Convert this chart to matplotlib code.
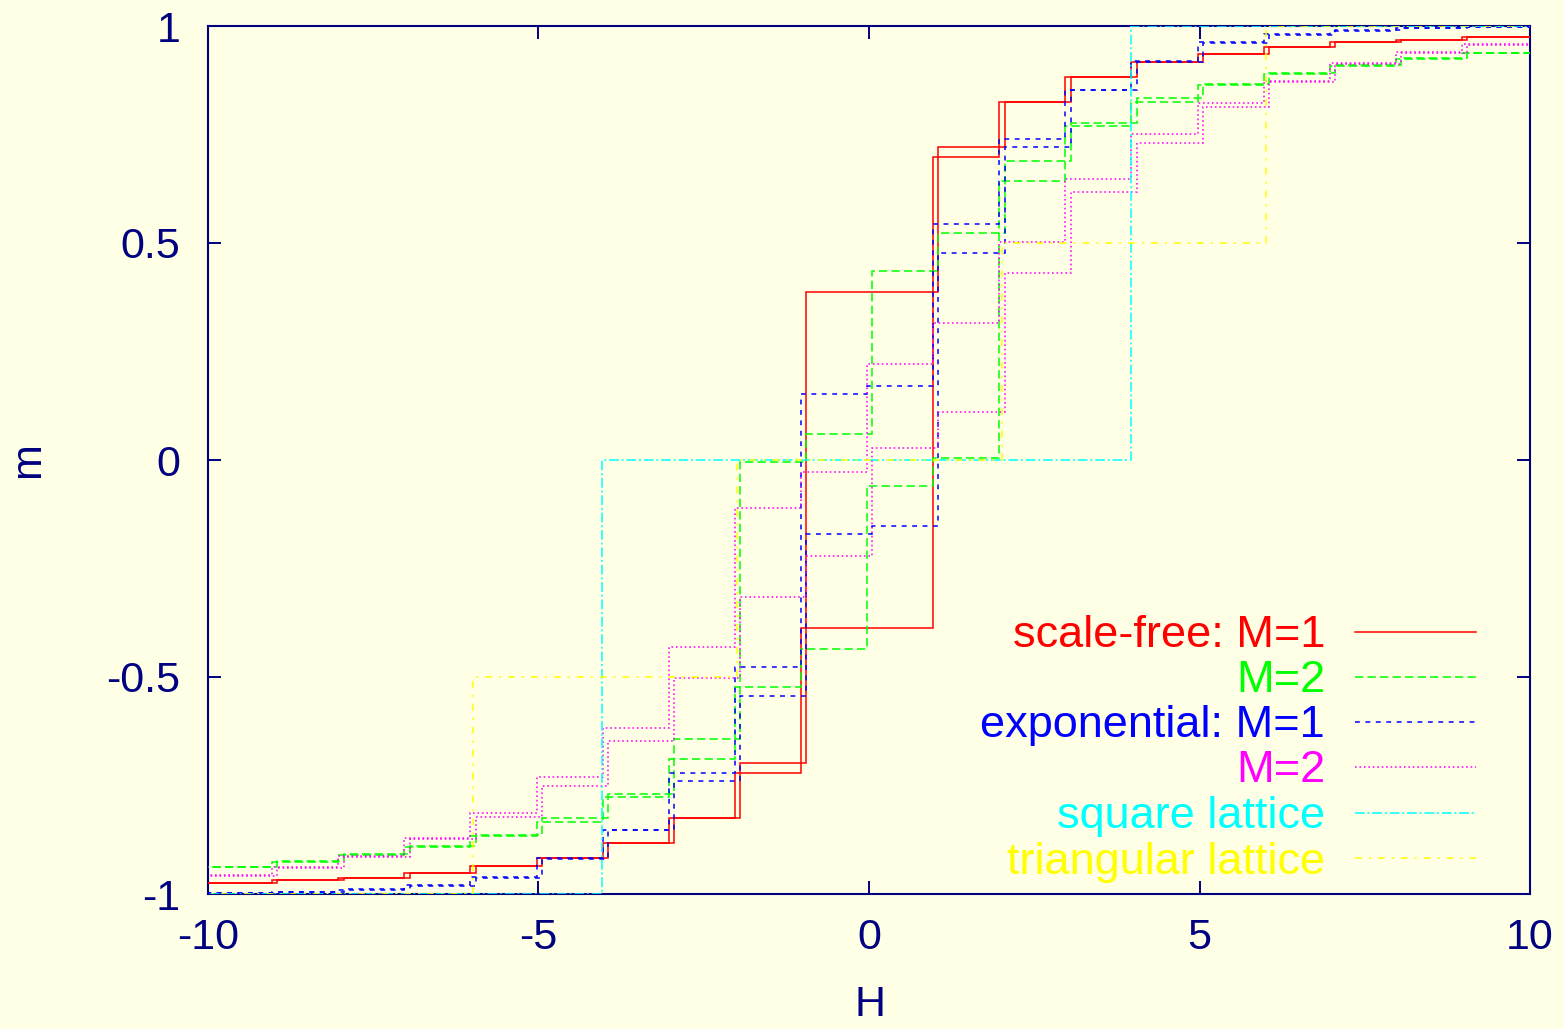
import numpy as np
import matplotlib
matplotlib.use("Agg")
import matplotlib.pyplot as plt

plt.rcParams['font.family'] = ['Liberation Sans', 'DejaVu Sans']
plt.rcParams['axes.unicode_minus'] = False
plt.rcParams['lines.scale_dashes'] = False

bg = '#ffffe6'
navy = '#000080'
fs = 31
key_fs = 32.5

# field grid: steps happen at integer H
H_edges = np.arange(-10, 11)

# magnetisation on each unit interval, ascending (lo) and descending (hi) branches
red_lo = [-0.975, -0.968, -0.962, -0.951, -0.935, -0.916, -0.883, -0.826, -0.721, -0.387,
          -0.387, 0.699, 0.826, 0.883, 0.916, 0.935, 0.951, 0.962, 0.968, 0.975]
red_hi = [-0.975, -0.968, -0.962, -0.951, -0.935, -0.916, -0.883, -0.826, -0.699, 0.387,
          0.387, 0.721, 0.826, 0.883, 0.916, 0.935, 0.951, 0.962, 0.968, 0.975]

green_lo = [-0.937, -0.926, -0.910, -0.891, -0.866, -0.833, -0.777, -0.690, -0.522, -0.435,
            -0.061, 0.005, 0.644, 0.770, 0.825, 0.864, 0.889, 0.908, 0.923, 0.937]
green_hi = [-0.937, -0.923, -0.908, -0.889, -0.864, -0.825, -0.770, -0.644, -0.005, 0.061,
            0.435, 0.522, 0.690, 0.777, 0.833, 0.866, 0.891, 0.910, 0.926, 0.937]

blue_lo = [-0.998, -0.995, -0.989, -0.981, -0.962, -0.920, -0.853, -0.739, -0.544, -0.171,
           -0.152, 0.477, 0.722, 0.853, 0.918, 0.960, 0.980, 0.990, 0.996, 0.998]
blue_hi = [-0.998, -0.996, -0.990, -0.980, -0.960, -0.918, -0.853, -0.722, -0.477, 0.152,
           0.171, 0.544, 0.739, 0.853, 0.920, 0.962, 0.981, 0.989, 0.995, 0.998]

magenta_lo = [-0.959, -0.941, -0.914, -0.874, -0.823, -0.751, -0.647, -0.503, -0.315, -0.222,
              0.027, 0.110, 0.430, 0.617, 0.730, 0.814, 0.872, 0.912, 0.938, 0.956]
magenta_hi = [-0.956, -0.938, -0.912, -0.872, -0.814, -0.730, -0.617, -0.430, -0.110, -0.027,
              0.222, 0.315, 0.503, 0.647, 0.751, 0.823, 0.874, 0.914, 0.941, 0.959]

square_edges = [-10, -4, 4, 10]
square_m = [-1.0, 0.0, 1.0]
tri_edges = [-10, -6, -2, 2, 6, 10]
tri_m = [-1.0, -0.5, 0.0, 0.5, 1.0]

labels = ['scale-free: M=1', 'M=2', 'exponential: M=1', 'M=2',
          'square lattice', 'triangular lattice']
colors = ['#ff0000', '#00ff00', '#0000ff', '#ff00ff', '#00ffff', '#ffff00']
styles = ['-', (0, (6, 3)), (0, (3.5, 4)), (0, (1.2, 2)),
          (0, (7, 2, 1.5, 2)), (0, (5, 5, 1.5, 5))]
lw = 1.1


def shifted(edges, dx):
    e = np.asarray(edges, dtype=float).copy()
    e[1:-1] += dx
    e[0] -= 0.5
    e[-1] += 0.5
    return e


fig = plt.figure(figsize=(15.64, 10.29), dpi=100, facecolor=bg)
ax = fig.add_axes([208 / 1564, 1 - 894 / 1029, 1322 / 1564, 868 / 1029])
ax.set_facecolor(bg)

curves = [
    (red_lo, -0.03, red_hi, 0.05),
    (green_lo, -0.03, green_hi, 0.05),
    (blue_lo, 0.05, blue_hi, -0.03),
    (magenta_lo, 0.05, magenta_hi, -0.03),
]
for i, (lo, dlo, hi, dhi) in enumerate(curves):
    for vals, dx in ((lo, dlo), (hi, dhi)):
        ax.stairs(vals, shifted(H_edges, dx), baseline=None, color=colors[i],
                  linestyle=styles[i], linewidth=lw, zorder=3)

ax.stairs(square_m, shifted(square_edges, -0.035), baseline=None, color=colors[4],
          linestyle=styles[4], linewidth=lw, zorder=3)
ax.stairs(tri_m, shifted(tri_edges, 0.01), baseline=None, color=colors[5],
          linestyle=styles[5], linewidth=lw, zorder=3)

ax.set_xlim(-10, 10)
ax.set_ylim(-1, 1)
ax.set_xticks([-10, -5, 0, 5, 10])
ax.set_xticklabels(['-10', '-5', '0', '5', '10'])
ax.set_yticks([-1, -0.5, 0, 0.5, 1])
ax.set_yticklabels(['-1', '-0.5', '0', '0.5', '1'])
ax.tick_params(direction='in', length=9.5, width=1.4, color=navy, labelcolor=navy,
               labelsize=fs, top=True, right=True)
ax.tick_params(axis='x', pad=17)
ax.tick_params(axis='y', pad=20)
for sp in ax.spines.values():
    sp.set_color(navy)
    sp.set_linewidth(1.5)
    sp.set_zorder(2.5)

fig.text(28 / 1564, 1 - 460 / 1029, 'm', rotation=90, ha='center', va='center',
         color=navy, fontsize=fs)
fig.text(870 / 1564, 1 - 1005 / 1029, 'H', ha='center', va='center',
         color=navy, fontsize=fs)

# key, text right-aligned with the line sample after it
row_y = [0.302, 0.250, 0.198, 0.146, 0.093, 0.041]
for lab, c, ls, y in zip(labels, colors, styles, row_y):
    ax.text(0.845, y - 0.0175, lab, transform=ax.transAxes, ha='right', va='baseline',
            color=c, fontsize=key_fs)
    ax.plot([0.868, 0.959], [y, y], transform=ax.transAxes, color=c, linestyle=ls,
            linewidth=lw)

fig.savefig('out.png', dpi=100, facecolor=bg)
